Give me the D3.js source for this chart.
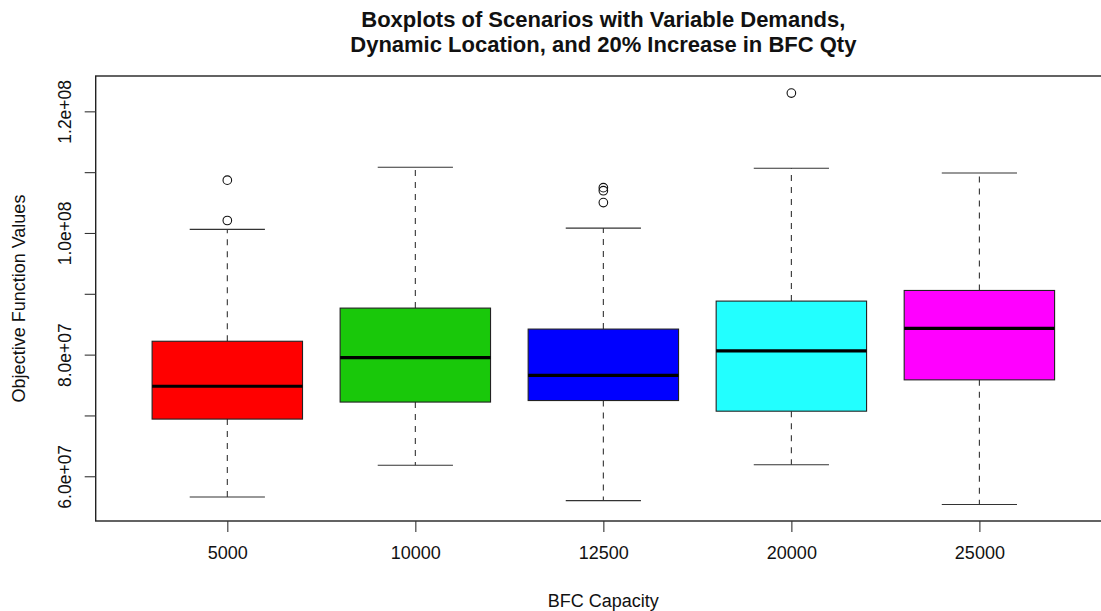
<!DOCTYPE html>
<html>
<head>
<meta charset="utf-8">
<script src="https://cdn.jsdelivr.net/npm/d3@7"></script>
<style>
  body { margin: 0; background: #fff; }
  text { font-family: "Liberation Sans", Arial, Helvetica, sans-serif; fill: #111; }
</style>
</head>
<body>
<div id="chart"></div>
<script>
// values
const categories = ['5000', '10000', '12500', '20000', '25000'];
const lowerWhisker = [5.66e7, 6.18e7, 5.60e7, 6.19e7, 5.535e7];
const q1 = [6.94e7, 7.22e7, 7.245e7, 7.07e7, 7.585e7];
const median = [7.48e7, 7.95e7, 7.66e7, 8.06e7, 8.43e7];
const q3 = [8.22e7, 8.765e7, 8.42e7, 8.88e7, 9.055e7];
const upperWhisker = [1.006e8, 1.108e8, 1.008e8, 1.1065e8, 1.0985e8];
const outliers = [[1.0868e8, 1.0205e8], [], [1.0745e8, 1.0695e8, 1.050e8], [1.23e8], []];
const boxColors = ['#ff0000', '#19c80a', '#0000ff', '#22ffff', '#ff00ff'];
const yTicks = [6e7, 7e7, 8e7, 9e7, 1e8, 1.1e8, 1.2e8];
const yTickLabels = ['6.0e+07', '', '8.0e+07', '', '1.0e+08', '', '1.2e+08'];

const width = 1101, height = 611;
const plot = {left: 95.7, right: 1111, top: 76, bottom: 521};

const svg = d3.select('#chart').append('svg')
  .attr('width', width)
  .attr('height', height);

const x = d3.scalePoint()
  .domain(categories)
  .range([plot.left, plot.right])
  .padding(0.7);

const y = d3.scaleLinear()
  .domain([5.2645e7, 1.2581e8])
  .range([plot.bottom, plot.top]);

const boxW = x.step() * 0.8;

const data = categories.map((c, i) => ({
  cat: c, lo: lowerWhisker[i], q1: q1[i], med: median[i], q3: q3[i],
  hi: upperWhisker[i], out: outliers[i], color: boxColors[i]
}));

const g = svg.append('g');

// whiskers (dashed)
g.selectAll('.whisker-up')
  .data(data).enter().append('line')
  .attr('x1', d => x(d.cat)).attr('x2', d => x(d.cat))
  .attr('y1', d => y(d.q3)).attr('y2', d => y(d.hi))
  .attr('stroke', '#333').attr('stroke-width', 1.1)
  .attr('stroke-dasharray', '6,6');

g.selectAll('.whisker-down')
  .data(data).enter().append('line')
  .attr('x1', d => x(d.cat)).attr('x2', d => x(d.cat))
  .attr('y1', d => y(d.q1)).attr('y2', d => y(d.lo))
  .attr('stroke', '#333').attr('stroke-width', 1.1)
  .attr('stroke-dasharray', '6,6');

// staples
['hi', 'lo'].forEach(k => {
  g.selectAll('.staple-' + k)
    .data(data).enter().append('line')
    .attr('x1', d => x(d.cat) - boxW / 4).attr('x2', d => x(d.cat) + boxW / 4)
    .attr('y1', d => y(d[k])).attr('y2', d => y(d[k]))
    .attr('stroke', '#333').attr('stroke-width', 1.1);
});

// boxes
g.selectAll('.box')
  .data(data).enter().append('rect')
  .attr('x', d => x(d.cat) - boxW / 2)
  .attr('width', boxW)
  .attr('y', d => y(d.q3))
  .attr('height', d => y(d.q1) - y(d.q3))
  .attr('fill', d => d.color)
  .attr('stroke', '#222').attr('stroke-width', 1.1);

// medians
g.selectAll('.median')
  .data(data).enter().append('line')
  .attr('x1', d => x(d.cat) - boxW / 2).attr('x2', d => x(d.cat) + boxW / 2)
  .attr('y1', d => y(d.med)).attr('y2', d => y(d.med))
  .attr('stroke', '#000').attr('stroke-width', 3.2);

// outliers
g.selectAll('.outs')
  .data(data).enter().append('g')
  .selectAll('circle')
  .data(d => d.out.map(v => ({cat: d.cat, v: v})))
  .enter().append('circle')
  .attr('cx', d => x(d.cat)).attr('cy', d => y(d.v))
  .attr('r', 4.3)
  .attr('fill', 'none').attr('stroke', '#111').attr('stroke-width', 1.1);

// frame
svg.append('rect')
  .attr('x', plot.left).attr('y', plot.top)
  .attr('width', plot.right - plot.left).attr('height', plot.bottom - plot.top)
  .attr('fill', 'none').attr('stroke', '#222').attr('stroke-width', 1.4);

// x axis
const xAxis = svg.append('g')
  .attr('transform', `translate(0,${plot.bottom})`)
  .call(d3.axisBottom(x).tickSize(11).tickPadding(14));
xAxis.select('.domain').remove();
xAxis.selectAll('line').attr('stroke', '#333').attr('stroke-width', 1.1);
xAxis.selectAll('text').attr('font-size', 18).attr('font-family', null);

// y axis
const yAxis = svg.append('g')
  .attr('transform', `translate(${plot.left},0)`)
  .call(d3.axisLeft(y).tickValues(yTicks).tickSize(11)
    .tickFormat((d, i) => yTickLabels[i]));
yAxis.select('.domain').remove();
yAxis.selectAll('line').attr('stroke', '#333').attr('stroke-width', 1.1);
yAxis.selectAll('text')
  .attr('font-size', 17.5).attr('font-family', null)
  .attr('x', null).attr('dy', null)
  .attr('text-anchor', 'middle')
  .attr('transform', 'translate(-25,0) rotate(-90)');

// titles
const title = svg.append('text')
  .attr('x', (plot.left + plot.right) / 2)
  .attr('text-anchor', 'middle')
  .attr('font-size', 22).attr('font-weight', 'bold');
title.append('tspan').attr('x', (plot.left + plot.right) / 2).attr('y', 26.5)
  .text('Boxplots of Scenarios with Variable Demands,');
title.append('tspan').attr('x', (plot.left + plot.right) / 2).attr('y', 52)
  .text('Dynamic Location, and 20% Increase in BFC Qty');

svg.append('text')
  .attr('x', (plot.left + plot.right) / 2).attr('y', 607)
  .attr('text-anchor', 'middle').attr('font-size', 18)
  .text('BFC Capacity');

svg.append('text')
  .attr('transform', `translate(24.5,${(plot.top + plot.bottom) / 2}) rotate(-90)`)
  .attr('text-anchor', 'middle').attr('font-size', 18)
  .text('Objective Function Values');
</script>
</body>
</html>
